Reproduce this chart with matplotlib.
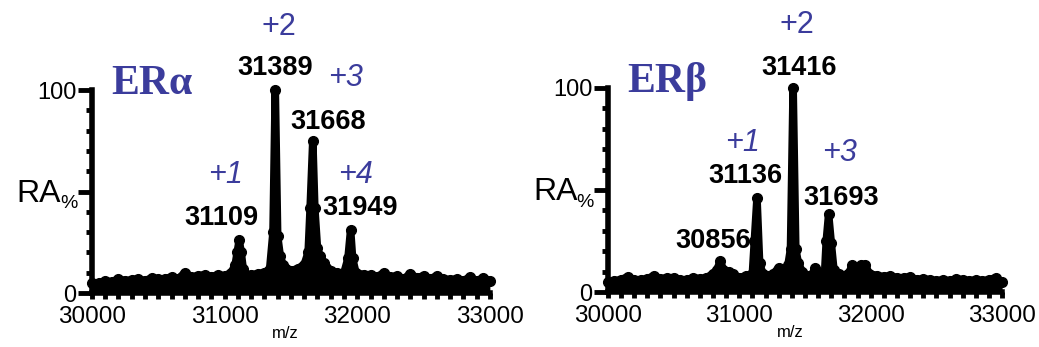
import matplotlib.pyplot as plt
from matplotlib.ticker import MultipleLocator

plt.rcParams['font.family'] = ['Liberation Sans', 'DejaVu Sans']

# ER alpha spectrum (m/z, relative abundance %)
mz_a = [30000, 30050, 30100, 30150, 30200, 30250, 30300, 30350, 30400, 30450,
        30500, 30550, 30600, 30650, 30700, 30750, 30800, 30850, 30900, 30950,
        31000, 31050, 31080, 31095, 31110, 31125, 31140, 31160, 31200, 31250,
        31300, 31340, 31365, 31382, 31400, 31420, 31440, 31460, 31500, 31550,
        31600, 31630, 31645, 31665, 31680, 31700, 31720, 31750, 31800, 31850,
        31900, 31930, 31950, 31965, 31990, 32050, 32100, 32150, 32200, 32250,
        32300, 32350, 32400, 32450, 32500, 32550, 32600, 32650, 32700, 32750,
        32800, 32850, 32900, 32950, 33000]
ra_a = [5, 5, 6, 5.5, 7, 6, 6.5, 7, 6, 7.5,
        7, 7, 8, 7, 10, 8, 8.5, 9, 8, 9,
        8.5, 10, 14, 20, 26, 20, 12, 9, 9, 9.5,
        10, 12, 30, 100, 28, 18, 14, 12, 11, 12,
        14, 20, 42, 75, 42, 22, 18, 15, 11, 10,
        10, 17, 31, 17, 10, 9, 9, 8, 10, 8,
        8.5, 7, 9.5, 7.5, 8.5, 7, 8.5, 7, 6.5, 7,
        6, 8, 6, 7.5, 6]

# ER beta spectrum
mz_b = [30000, 30050, 30100, 30150, 30200, 30250, 30300, 30350, 30400, 30450,
        30500, 30550, 30600, 30650, 30700, 30750, 30800, 30830, 30855, 30880,
        30920, 30950, 31000, 31050, 31100, 31115, 31135, 31155, 31180, 31220,
        31260, 31300, 31330, 31370, 31390, 31410, 31430, 31450, 31480, 31520,
        31560, 31580, 31610, 31650, 31662, 31680, 31700, 31720, 31760, 31800,
        31830, 31860, 31890, 31930, 31960, 31990, 32050, 32100, 32150, 32200,
        32250, 32300, 32350, 32400, 32450, 32500, 32550, 32600, 32650, 32700,
        32750, 32800, 32850, 32900, 32950, 33000]
ra_b = [5, 5.5, 6, 7.5, 6, 6, 6.5, 8, 6.5, 7,
        7, 6, 6, 7, 6.5, 7, 9, 11, 15, 11,
        10, 9, 7, 8, 9, 25, 46, 14, 9, 8,
        9, 12, 10, 13, 21, 100, 21, 14, 10, 8,
        9, 12, 9, 10, 25, 38, 24, 11, 9, 8,
        9, 13, 9, 13, 13, 9, 8, 7.5, 8, 7,
        7, 7.5, 6, 6.5, 6, 5.5, 6, 5.5, 6.5, 6,
        5.5, 6, 5.5, 6, 7, 5]

# peak labels: (text, x, y)
peaks_a = [('31389', 31380, 111), ('31668', 31780, 84),
           ('31109', 30975, 37), ('31949', 32020, 42)]
charges_a = [('+2', 31410, 131, 'normal'), ('+3', 31912, 106, 'italic'),
             ('+1', 31010, 58, 'italic'), ('+4', 31985, 58, 'italic')]
peaks_b = [('31416', 31455, 110), ('31136', 31050, 57),
           ('31693', 31778, 46), ('30856', 30802, 25)]
charges_b = [('+2', 31440, 131, 'normal'), ('+1', 31028, 73, 'italic'),
             ('+3', 31763, 68, 'italic')]

blue = '#3b3c9c'

fig = plt.figure(figsize=(10.39, 3.47), dpi=100)
ax1 = fig.add_axes([0.0885, 0.1556, 0.383, 0.585])
ax2 = fig.add_axes([0.585, 0.1585, 0.3795, 0.588])


def draw(ax, mz, ra, peaks, charges, title, mz_x):
    ax.fill_between(mz, 0, ra, color='black', lw=0, clip_on=False)
    ax.plot(mz, ra, color='black', lw=5.5, solid_joinstyle='round',
            solid_capstyle='round', marker='o', ms=7, clip_on=False)
    ax.set_xlim(30000, 33000)
    ax.set_ylim(0, 100)
    for s in ['top', 'right']:
        ax.spines[s].set_visible(False)
    for s in ['left', 'bottom']:
        ax.spines[s].set_linewidth(4)
    ax.xaxis.set_major_locator(MultipleLocator(1000))
    ax.xaxis.set_minor_locator(MultipleLocator(100))
    ax.set_yticks([0, 50, 100])
    ax.set_yticklabels(['0', '', '100'])
    ax.yaxis.set_minor_locator(MultipleLocator(10))
    ax.tick_params(axis='y', which='major', length=10, width=3.5, pad=1,
                   labelsize=17)
    ax.tick_params(axis='y', which='minor', length=4, width=3.5)
    ax.tick_params(axis='x', which='major', length=4, width=3.5, pad=5,
                   labelsize=17.5)
    ax.tick_params(axis='x', which='minor', length=4, width=3.5)
    ax.text(-0.077, 49, 'RA', transform=ax.get_yaxis_transform(),
            ha='right', va='center', fontsize=23)
    ax.text(-0.079, 44, '%', transform=ax.get_yaxis_transform(),
            ha='left', va='center', fontsize=14)
    ax.text(mz_x, -0.2, 'm/z', transform=ax.get_xaxis_transform(),
            ha='center', va='center', fontsize=12)
    ax.text(30450, 103, title, ha='center', va='center', fontsize=30,
            fontweight='bold', color=blue, family=['Liberation Serif', 'DejaVu Serif'],
            clip_on=False)
    for t, x, y in peaks:
        ax.text(x, y, t, ha='center', va='center', fontsize=19.5,
                fontweight='bold', clip_on=False)
    for t, x, y, st in charges:
        ax.text(x, y, t, ha='center', va='center', fontsize=22,
                style=st, color=blue, clip_on=False)


draw(ax1, mz_a, ra_a, peaks_a, charges_a, 'ERα', 31460)
draw(ax2, mz_b, ra_b, peaks_b, charges_b, 'ERβ', 31388)

fig.savefig('out.png', dpi=100)
